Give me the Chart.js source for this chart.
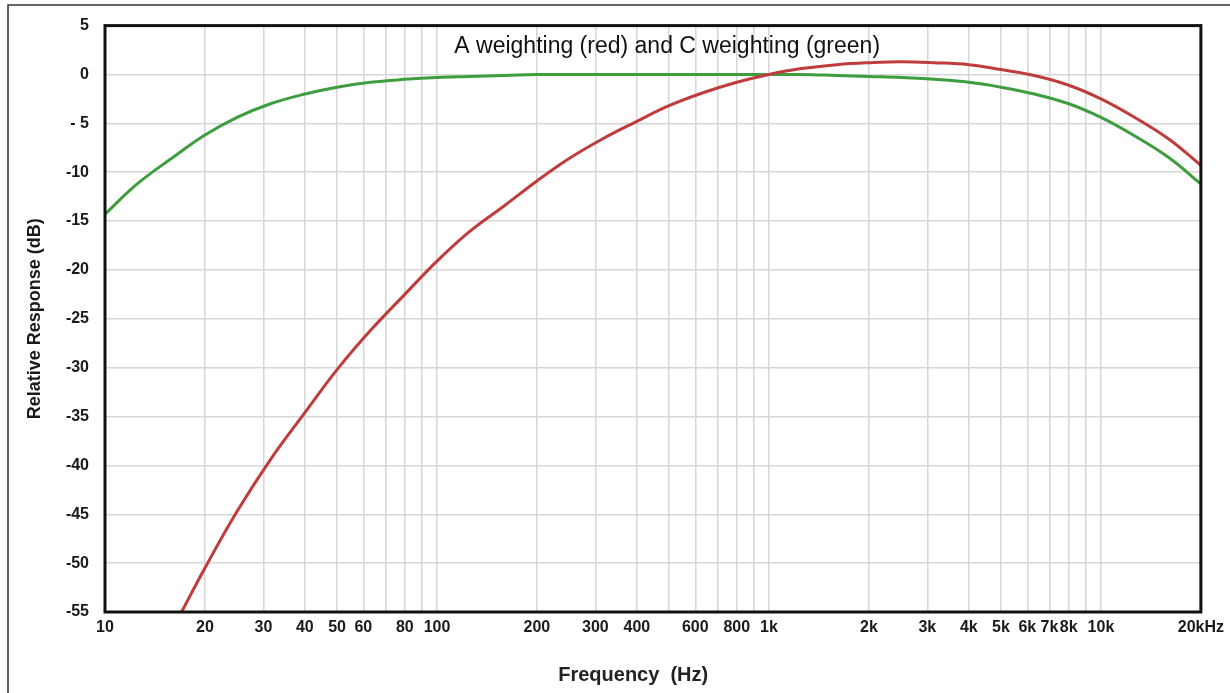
<!DOCTYPE html>
<html>
<head>
<meta charset="utf-8">
<script src="https://cdn.jsdelivr.net/npm/chart.js@4/dist/chart.umd.min.js"></script>
<style>
  html, body { margin: 0; padding: 0; background: #fff; }
  #wrap { width: 1230px; height: 693px; }
</style>
</head>
<body>
<div id="wrap"><canvas id="c" width="1230" height="693"></canvas></div>
<script>
// ---- data ----
const frequencies = [10, 12.5, 16, 20, 25, 31.5, 40, 50, 63, 80, 100, 125, 160, 200, 250, 315, 400, 500, 630, 800,
  1000, 1250, 1600, 2000, 2500, 3150, 4000, 5000, 6300, 8000, 10000, 12500, 16000, 20000];
const aWeighting = [-70.4, -63.4, -56.7, -50.5, -44.7, -39.4, -34.6, -30.2, -26.2, -22.5, -19.1, -16.1, -13.4, -10.9,
  -8.6, -6.6, -4.8, -3.2, -1.9, -0.8, 0.0, 0.6, 1.0, 1.2, 1.3, 1.2, 1.0, 0.5, -0.1, -1.1, -2.5, -4.3, -6.6, -9.3];
const cWeighting = [-14.3, -11.2, -8.5, -6.2, -4.4, -3.0, -2.0, -1.3, -0.8, -0.5, -0.3, -0.2, -0.1, 0.0, 0.0, 0.0,
  0.0, 0.0, 0.0, 0.0, 0.0, 0.0, -0.1, -0.2, -0.3, -0.5, -0.8, -1.3, -2.0, -3.0, -4.4, -6.2, -8.5, -11.2];

const gridFrequencies = [10, 20, 30, 40, 50, 60, 70, 80, 90, 100, 200, 300, 400, 500, 600, 700, 800, 900,
  1000, 2000, 3000, 4000, 5000, 6000, 7000, 8000, 9000, 10000, 20000];
const xTickValues = [10, 20, 30, 40, 50, 60, 80, 100, 200, 300, 400, 600, 800, 1000, 2000, 3000, 4000, 5000,
  6000, 7000, 8000, 10000, 20000];
const xTickLabels = ['10', '20', '30', '40', '50', '60', '80', '100', '200', '300', '400', '600', '800', '1k',
  '2k', '3k', '4k', '5k', '6k', '7k', '8k', '10k', '20kHz'];
const yTickValues = [5, 0, -5, -10, -15, -20, -25, -30, -35, -40, -45, -50, -55];
const yTickLabels = ['5', '0', '- 5', '-10', '-15', '-20', '-25', '-30', '-35', '-40', '-45', '-50', '-55'];

const chartTitle = 'A weighting (red) and C weighting (green)';
const xTitle = 'Frequency  (Hz)';
const yTitle = 'Relative Response (dB)';

// ---- chart ----
const FONT = "'Liberation Sans', Arial, sans-serif";

const decorPlugin = {
  id: 'decor',
  beforeDraw(chart) {
    const ctx = chart.ctx;
    ctx.save();
    ctx.strokeStyle = '#333';
    ctx.lineWidth = 1.5;
    ctx.beginPath();
    ctx.moveTo(8, 693);
    ctx.lineTo(8, 5);
    ctx.lineTo(1230, 5);
    ctx.stroke();
    ctx.restore();
  },
  afterDraw(chart) {
    const ctx = chart.ctx;
    const a = chart.chartArea;
    ctx.save();
    // plot frame
    ctx.strokeStyle = '#111';
    ctx.lineWidth = 3;
    ctx.strokeRect(a.left, a.top, a.right - a.left, a.bottom - a.top);
    // title inside plot area
    ctx.fillStyle = '#111';
    ctx.font = "23px " + FONT;
    ctx.textAlign = 'center';
    ctx.textBaseline = 'alphabetic';
    ctx.fillText(chartTitle, a.left + (a.right - a.left) * 0.513, a.top + 27);
    // x axis title
    ctx.font = "bold 20px " + FONT;
    ctx.fillStyle = '#222';
    ctx.textBaseline = 'middle';
    ctx.fillText(xTitle, a.left + (a.right - a.left) * 0.482, 675);
    ctx.restore();
  }
};

new Chart(document.getElementById('c'), {
  type: 'line',
  data: {
    datasets: [
      {
        label: 'A weighting',
        data: frequencies.map((f, i) => ({ x: f, y: aWeighting[i] })),
        borderColor: 'rgb(192, 60, 60)',
        borderWidth: 3,
        pointRadius: 0,
        tension: 0.4,
        fill: false
      },
      {
        label: 'C weighting',
        data: frequencies.map((f, i) => ({ x: f, y: cWeighting[i] })),
        borderColor: 'rgb(62, 158, 62)',
        borderWidth: 3,
        pointRadius: 0,
        tension: 0.4,
        fill: false
      }
    ]
  },
  options: {
    responsive: false,
    animation: false,
    devicePixelRatio: 1,
    layout: { padding: { top: 24, right: 28, left: 0, bottom: 0 } },
    plugins: {
      legend: { display: false },
      title: { display: false },
      tooltip: { enabled: false }
    },
    scales: {
      x: {
        type: 'logarithmic',
        min: 10,
        max: 20000,
        afterBuildTicks: (scale) => { scale.ticks = gridFrequencies.map(v => ({ value: v })); },
        afterFit: (scale) => { scale.height = 81; },
        grid: { color: 'rgb(214,214,214)', lineWidth: 1.5, drawTicks: false },
        border: { display: false },
        ticks: {
          autoSkip: false,
          maxRotation: 0,
          padding: 6,
          color: '#1a1a1a',
          font: { family: FONT, size: 16, weight: 'bold' },
          callback: (value) => {
            const i = xTickValues.indexOf(Number(value));
            return i >= 0 ? xTickLabels[i] : '';
          }
        }
      },
      y: {
        type: 'linear',
        min: -55,
        max: 5,
        afterBuildTicks: (scale) => { scale.ticks = yTickValues.map(v => ({ value: v })); },
        afterFit: (scale) => { scale.width = 105; },
        grid: { color: 'rgb(214,214,214)', lineWidth: 1.5, drawTicks: false },
        border: { display: false },
        ticks: {
          padding: 16,
          color: '#1a1a1a',
          font: { family: FONT, size: 16, weight: 'bold' },
          callback: (value) => {
            const i = yTickValues.indexOf(Number(value));
            return i >= 0 ? yTickLabels[i] : '';
          }
        },
        title: {
          display: true,
          text: yTitle,
          color: '#1a1a1a',
          font: { family: FONT, size: 18, weight: 'bold' },
          padding: { top: 24, bottom: 0 }
        }
      }
    }
  },
  plugins: [decorPlugin]
});
</script>
</body>
</html>
